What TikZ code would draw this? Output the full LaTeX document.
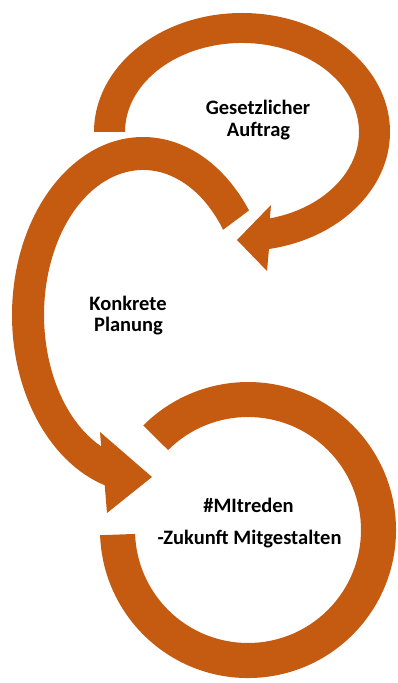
\documentclass[tikz,border=0pt]{standalone}
\usepackage{fontspec}
\setmainfont{Carlito}
\definecolor{arrowor}{HTML}{C55A11}
\begin{document}
\begin{tikzpicture}[x=1pt,y=1pt,
  band/.style={fill=arrowor},
  lbl/.style={anchor=base,inner sep=0pt,font=\fontsize{20.5}{24}\selectfont\bfseries,text=black}]
\useasboundingbox (0,0) rectangle (398,683);
% top arc (Gesetzlicher Auftrag)
\fill[band] (94,551) arc[start angle=180,end angle=-79.5,x radius=148pt,y radius=119pt]
  -- (267,412) -- (237,443) -- (271,478) -- (269.9,464.6)
  arc[start angle=-76.2,end angle=180,x radius=117pt,y radius=89pt] -- cycle;
% middle arc (Konkrete Planung)
\fill[band] (249.0,472.6) arc[start angle=36,end angle=253,x radius=131pt,y radius=178pt]
  -- (107,170) -- (152,206) -- (100,251) -- (101.2,236.6)
  arc[start angle=245,end angle=36,x radius=99pt,y radius=145pt] -- cycle;
% bottom ring (#MItreden)
\fill[band] (100.1,147.8) arc[start angle=182,end angle=495,radius=148pt]
  -- (168.1,232.9) arc[start angle=495,end angle=182,radius=113pt] -- cycle;
% labels
\node[lbl] (g1) at (258,568) {Gesetzlicher};
\node[lbl] (g2) at (258.5,546) {Auftrag};
\node[lbl] (k1) at (128,372) {Konkrete};
\node[lbl] (k2) at (128.5,351) {Planung};
\node[lbl] (m1) at (248.5,170) {\#MItreden};
\node[lbl] (m2) at (249.5,138) {-Zukunft Mitgestalten};
\end{tikzpicture}
\end{document}
